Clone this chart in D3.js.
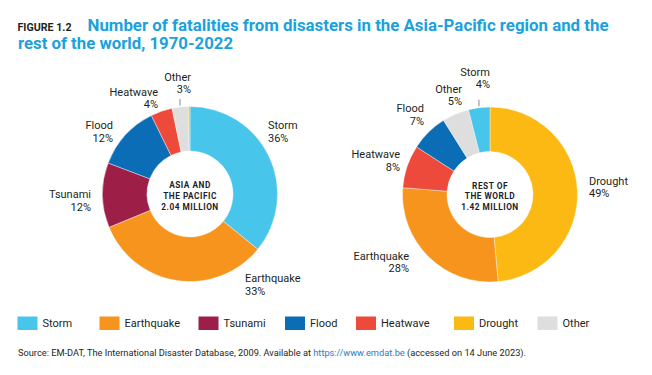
<!DOCTYPE html>
<html lang="en">
<head>
    <meta charset="UTF-8">
    <title>Fatalities from disasters, Asia-Pacific vs rest of the world</title>
    <style>
        body { margin: 0; background: #fff; }
        svg text { font-family: Roboto, "Liberation Sans", sans-serif; fill: #231f20; }
    </style>
</head>
<body>
    <div id="chart"></div>

    <script src="https://cdn.jsdelivr.net/npm/d3@7/dist/d3.min.js"></script>
    <script>

        // disaster types, in legend order
        const types = ["Storm", "Earthquake", "Tsunami", "Flood", "Heatwave", "Drought", "Other"];
        const colors = ["#48c5ea", "#f7941d", "#9d1f48", "#0b6db5", "#ee4a3b", "#fcb913", "#dddedd"];

        // Asia and the Pacific, clockwise from 12 o'clock (share in %)
        const asiaTypes = ["Storm", "Earthquake", "Tsunami", "Flood", "Heatwave", "Other", "Drought"];
        const asiaValues = [36, 33, 12, 12, 4, 3, 0.3];
        const asiaLines = ["ASIA AND", "THE PACIFIC", "2.04 MILLION"];

        // Rest of the world, clockwise from 12 o'clock (share in %)
        const worldTypes = ["Drought", "Earthquake", "Heatwave", "Flood", "Other", "Storm"];
        const worldValues = [49, 28, 8, 7, 5, 4];
        const worldLines = ["REST OF", "THE WORLD", "1.42 MILLION"];

        // hand placed label spots (anchor, x, baseline), same order as the types above
        const asiaLabelPos = [
            ["start", 268, 129], ["start", 245, 282], ["end", 91, 198],
            ["end", 113, 129], ["end", 158, 95.5], ["end", 191, 80.5], null
        ];
        const worldLabelPos = [
            ["start", 589, 184.5], ["end", 409, 259.5], ["end", 400, 158],
            ["end", 424, 112], ["end", 462, 92.5], ["end", 490, 75.5]
        ];

        const width = 652, height = 375;
        const color = d3.scaleOrdinal().domain(types).range(colors);

        const svg = d3.select("#chart")
            .append("svg")
            .attr("width", width)
            .attr("height", height);

        // title
        svg.append("text")
            .attr("x", 17.5).attr("y", 30.8)
            .attr("font-size", 10).attr("font-weight", 700)
            .attr("textLength", 54).attr("lengthAdjust", "spacingAndGlyphs")
            .text("FIGURE 1.2");

        const titleLines = [
            ["Number of fatalities from disasters in the Asia-Pacific region and the", 87.5, 31.3, 521],
            ["rest of the world, 1970-2022", 18, 49, 215]
        ];
        titleLines.forEach(([t, x, y, w]) => {
            svg.append("text")
                .attr("x", x).attr("y", y)
                .attr("font-size", 16.5).attr("font-weight", 700)
                .style("fill", "#1ba1dc")
                .attr("textLength", w).attr("lengthAdjust", "spacingAndGlyphs")
                .text(t);
        });

        const outerR = 87.5, innerR = 43;

        function drawDonut(cx, cy, keys, values, centerLines, labelPos) {
            const g = svg.append("g").attr("transform", `translate(${cx},${cy})`);

            const pie = d3.pie().sort(null).value((d) => d.value);
            const arc = d3.arc().innerRadius(innerR).outerRadius(outerR);
            const arcs = pie(keys.map((k, i) => ({key: k, value: values[i]})));

            g.selectAll("path")
                .data(arcs)
                .join("path")
                .attr("d", arc)
                .attr("fill", (d) => color(d.data.key))
                .attr("stroke", "#fff")
                .attr("stroke-width", 0.4);

            // centre text
            g.selectAll("text.center")
                .data(centerLines)
                .join("text")
                .classed("center", true)
                .attr("text-anchor", "middle")
                .attr("y", (d, i) => -6 + i * 10.8)
                .attr("font-size", 8.3)
                .attr("font-weight", 700)
                .attr("letter-spacing", 0.5)
                .style("fill", "#1d1d2b")
                .text((d) => d);

            // slice labels
            arcs.forEach((a, i) => {
                const p = labelPos[i];
                if (!p) return;
                const t = svg.append("text")
                    .attr("text-anchor", p[0])
                    .attr("font-size", 11);
                t.append("tspan").attr("x", p[1]).attr("y", p[2]).text(a.data.key);
                t.append("tspan").attr("x", p[1]).attr("y", p[2] + 12.8)
                    .text(Math.round(a.data.value) + "%");
            });
            return arcs;
        }

        const asiaArcs = drawDonut(190, 194, asiaTypes, asiaValues, asiaLines, asiaLabelPos);
        const worldArcs = drawDonut(490, 194.5, worldTypes, worldValues, worldLines, worldLabelPos);

        // small leader ticks for the thin slices near the top
        function leader(cx, cy, a) {
            const m = (a.startAngle + a.endAngle) / 2;
            const r1 = outerR + 1.5, r2 = outerR + 8;
            svg.append("line")
                .attr("x1", cx + r1 * Math.sin(m)).attr("y1", cy - r1 * Math.cos(m))
                .attr("x2", cx + r2 * Math.sin(m) + 0.8).attr("y2", cy - r2 * Math.cos(m))
                .attr("stroke", "#555").attr("stroke-width", 0.7);
        }
        leader(190, 194, asiaArcs[5]);
        leader(490, 194.5, worldArcs[5]);

        // legend
        const legendX = [17.5, 99.5, 198.5, 285, 356, 454, 537.5];
        const legend = svg.append("g");
        types.forEach((t, i) => {
            legend.append("rect")
                .attr("x", legendX[i]).attr("y", 316.5)
                .attr("width", 20).attr("height", 13.5)
                .attr("fill", color(t));
            legend.append("text")
                .attr("x", legendX[i] + 25).attr("y", 327.3)
                .attr("font-size", 11)
                .text(t);
        });

        // source
        const src = svg.append("text")
            .attr("x", 18).attr("y", 356.3)
            .attr("font-size", 8.8)
            .attr("textLength", 508).attr("lengthAdjust", "spacingAndGlyphs");
        src.append("tspan").text("Source: EM-DAT, The International Disaster Database, 2009. Available at ");
        src.append("tspan").style("fill", "#2a7bc0").text("https://www.emdat.be");
        src.append("tspan").text(" (accessed on 14 June 2023).");

    </script>
</body>
</html>
